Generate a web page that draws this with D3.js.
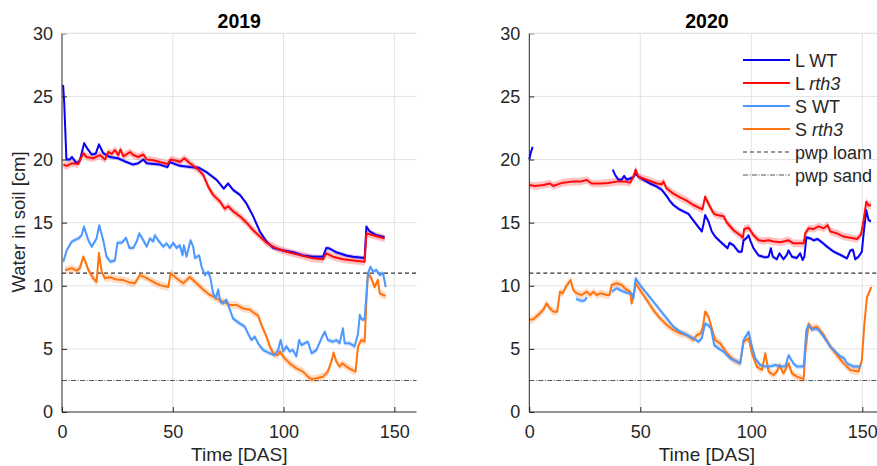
<!DOCTYPE html>
<html>
<head>
<meta charset="utf-8">
<script src="https://cdn.jsdelivr.net/npm/d3@7"></script>
<style>
  html, body { margin: 0; padding: 0; background: #fff; }
  svg { display: block; font-family: "Liberation Sans", Arial, sans-serif; }
</style>
</head>
<body>
<svg id="chart" width="877" height="466"></svg>
<script>
// Soil water content (cm) over time (days after sowing), two seasons.
// Each series is a list of [day, cm]; null marks a gap in the record.

const years = ["2019", "2020"];
const seriesNames = ["L WT", "L rth3", "S WT", "S rth3"];
const seriesColors = ["#0a00f5", "#ff0a0a", "#4d98ff", "#ff7410"];
const bandHalfWidth = [0.15, 0.3, 0.2, 0.3];
const pwpLoam = 11;
const pwpSand = 2.5;
const xTicks = [0, 50, 100, 150];
const yTicks = [0, 5, 10, 15, 20, 25, 30];

const lwt2019 = [[0.5,25.9],[1.0,24.5],[2,20.0],[3.5,20.0],[4.5,20.2],[6.6,19.7],[8,19.9],[10,21.3],[11.3,20.9],[13.4,20.4],[15.2,20.45],[16.7,21.2],[18.6,20.5],[21.6,20.2],[25.3,20.1],[29.1,19.8],[32.1,19.6],[34.4,19.7],[36.7,20.0],[38.2,19.7],[41.1,19.65],[44.1,19.6],[47.6,19.4],[48.7,19.8],[50.2,19.7],[53.2,19.5],[57.7,19.4],[61.8,19.35],[65.2,19.0],[69.7,18.4],[73,17.7],[75,18.1],[77.2,17.6],[80.3,17.2],[83.3,16.5],[86.3,15.5],[89.3,14.3],[92.3,13.5],[95.3,13.0],[99.8,12.8],[104.3,12.65],[108.8,12.4],[113.3,12.3],[117.8,12.3],[119.3,13.0],[120.8,12.95],[123.8,12.65],[128.3,12.4],[131.3,12.3],[136.6,12.2],[137.4,14.7],[138.9,14.3],[141.9,14.0],[145.6,13.85]];

const lrth2019 = [[0.6,19.6],[2.1,19.5],[4.4,19.7],[7.4,19.65],[9.6,20.5],[11.1,20.2],[14.1,20.1],[17.1,20.35],[19.4,20.0],[20.9,20.6],[22.4,20.45],[23.9,20.75],[25.4,20.35],[26.4,20.8],[27.7,20.25],[30.7,20.6],[32.2,20.36],[34.4,20.2],[36.7,20.4],[38.2,20.0],[41.2,19.95],[44.2,19.8],[47.6,19.65],[49,20.0],[51.7,19.9],[53.2,19.8],[55.2,20.1],[57.7,19.7],[61.5,19.2],[63.7,18.8],[66,17.85],[68.2,17.2],[71.2,16.7],[73.5,16.1],[75,16.3],[77.2,15.9],[80.3,15.5],[83.3,15.0],[86.3,14.4],[89.3,13.9],[92.3,13.4],[96.8,12.97],[101.3,12.7],[107.3,12.44],[113.3,12.17],[117.8,12.1],[119.3,12.57],[122.3,12.3],[126.8,12.1],[131.3,12.0],[136.6,11.9],[137.4,14.15],[140.4,14.0],[145.6,13.75]];

const swt2019 = [[0.6,11.9],[2.1,12.8],[4.4,13.5],[7.4,13.75],[8.9,14.0],[9.9,14.7],[11.9,13.6],[13.4,13.1],[15.6,13.75],[16.8,14.8],[18.6,13.6],[20.1,12.3],[21.9,11.9],[23.9,12.0],[25,13.4],[26.9,13.4],[28,13.6],[28.9,13.8],[30.4,13.0],[32.2,13.0],[33.7,13.5],[34.9,14.15],[36.7,13.6],[38.2,13.1],[39.7,13.75],[41.2,13.5],[41.9,14.0],[43.4,13.6],[45.7,13.1],[47.2,13.35],[48.7,13.0],[50.2,13.4],[51.7,13.0],[53.2,13.2],[54.4,12.4],[55,13.2],[56.2,12.3],[58,13.6],[59.2,13.1],[60,12.2],[61.9,12.4],[63,11.5],[64.5,10.85],[66,11.1],[67,10.6],[68.2,9.4],[69.4,9.0],[70.5,9.7],[71.5,8.7],[72.7,8.6],[74.2,8.9],[75.8,8.1],[77.2,7.4],[80.3,7.0],[82.5,6.76],[84,6.2],[85.5,5.7],[87,5.97],[88.5,5.44],[90.8,4.9],[93.8,4.65],[96,4.5],[97.5,4.9],[98.7,5.7],[99.8,4.8],[101.3,5.2],[102.8,4.8],[104.3,4.9],[105.8,4.4],[107,5.7],[108.1,5.3],[109.6,5.45],[111,5.57],[112.6,4.65],[114.8,4.9],[117.1,5.84],[118.6,6.36],[120,5.7],[122.3,5.57],[123.8,5.7],[125.3,5.44],[126.8,6.63],[127.6,5.44],[129.8,5.44],[132.1,5.2],[133.6,6.2],[134.4,7.7],[135.1,7.4],[135.9,7.3],[136.6,7.4],[138.1,11.0],[139.2,11.5],[140.4,11.1],[141.9,11.25],[143.4,10.85],[144.9,11.0],[146.1,9.9]];

const srth2019 = [[1.4,11.25],[2.9,11.3],[4.4,11.4],[6.6,11.2],[8.1,11.4],[9.6,12.3],[10.8,11.8],[11.9,11.25],[14.1,10.6],[15.6,10.3],[16.7,12.6],[17.9,11.1],[19.4,10.6],[21.6,10.67],[24.6,10.5],[27.7,10.45],[30.7,10.25],[32.9,10.2],[35.2,10.85],[38.2,10.6],[41.2,10.3],[44.2,10.05],[48,9.9],[49,11.0],[51.7,10.6],[54.7,10.2],[57.7,10.7],[60.7,10.2],[63.7,9.7],[66.7,9.27],[69.7,9.0],[72.7,8.74],[75.8,8.48],[78.7,8.48],[81.8,8.2],[84.8,8.1],[87,7.8],[88.5,7.65],[90,6.9],[92.3,5.97],[93.8,5.2],[95.3,4.65],[97.5,4.5],[98.3,4.8],[100.5,4.25],[102.8,3.85],[105.8,3.46],[108.8,3.2],[111,2.8],[112.6,2.6],[114.8,2.67],[117.8,2.8],[120,3.2],[121.6,4.0],[122.6,4.7],[123.8,4.0],[125.3,3.6],[126.5,3.85],[128.3,3.6],[131.3,3.3],[132.5,3.2],[133.6,5.2],[135.1,5.7],[136.6,5.57],[137.4,8.87],[138.1,11.0],[139.6,10.6],[141.1,9.9],[142.6,10.45],[143.4,9.4],[144.9,9.27],[146.1,9.2]];

const lwt2020 = [[0,20.0],[0.6,20.5],[1.5,21.0],null,[37.6,19.2],[38.6,18.8],[40.1,18.4],[41.6,18.4],[42.7,18.7],[43.9,18.4],[45.4,18.5],[46.9,18.6],[47.9,18.9],[49.1,18.64],[51.4,18.4],[54.4,18.1],[57.4,17.85],[59.7,17.6],[61.9,17.1],[63.4,16.7],[64.9,16.4],[67.2,16.1],[69.4,15.9],[71.7,15.7],[73.2,15.34],[75.5,14.8],[77.7,14.3],[78.5,14.9],[79.2,15.6],[80.7,15.1],[82.2,14.3],[83.7,13.9],[86,13.5],[88.2,13.15],[89.3,12.97],[90.2,13.4],[92,13.2],[94.2,12.7],[95.7,12.7],[96.5,13.6],[97.7,13.75],[98.8,14.0],[99.5,13.6],[101,12.97],[103.3,12.4],[106.3,12.25],[107.8,12.3],[108.8,12.97],[109.7,12.3],[111.5,12.1],[112.7,12.57],[114.5,12.1],[116,12.45],[116.8,12.8],[118.3,12.3],[120.5,12.2],[122,12.57],[123.1,12.04],[123.9,12.3],[124.8,13.84],[126.6,13.75],[128.1,13.6],[129.9,13.7],[131.8,13.44],[134.1,13.1],[137.1,12.7],[140.1,12.44],[143.1,12.17],[144.6,12.8],[145.8,12.85],[146.8,12.1],[148.3,12.3],[149.8,12.7],[150.6,14.15],[151.8,16.0],[152.8,15.2],[153.9,15.1]];

const lrth2020 = [[0,17.98],[2.6,17.9],[6.3,17.98],[9.3,18.1],[10.8,17.9],[13.1,18.05],[15.3,18.17],[19.1,18.25],[22.8,18.25],[25.9,18.38],[28.1,18.1],[31.9,18.1],[35.6,18.15],[39.4,18.25],[43.1,18.25],[45.4,18.17],[46.9,18.64],[47.9,19.2],[49.1,18.64],[51.4,18.5],[54.4,18.3],[57.4,18.1],[59.7,18.05],[60.4,18.25],[61.9,17.7],[64.9,17.3],[67.9,17.0],[70.9,16.75],[73.9,16.4],[78,16.05],[79.2,17.05],[80.7,16.5],[83,15.74],[84.5,15.6],[87.5,15.5],[89,15.0],[92,14.4],[95,14.0],[96.2,13.8],[96.8,14.5],[98.8,14.6],[101,14.0],[103.3,13.6],[105.5,13.55],[107.8,13.6],[110,13.5],[113,13.45],[116.8,13.6],[119,13.36],[123.6,13.36],[124.3,14.15],[125.8,14.55],[128.1,14.5],[130.3,14.7],[132.6,14.55],[134.4,14.8],[135.6,14.3],[138.6,14.15],[141.6,13.9],[144.6,13.8],[147.6,13.7],[149.4,14.05],[150.6,15.2],[151.8,16.65],[152.8,16.35],[153.9,16.4]];

const swt2020 = [[21,8.96],[23.6,8.8],[25.1,8.85],[25.9,9.1],null,[37.1,9.53],[39.4,9.8],[41.6,9.6],[43.9,9.45],[46.1,9.4],[46.9,9.0],[47.9,10.6],[49.9,10.06],[52.9,9.4],[55.9,8.74],[58.9,8.08],[61.9,7.42],[64.9,6.76],[67.9,6.36],[70.9,6.1],[73.9,5.84],[76.2,5.57],[77.7,5.84],[79.2,7.0],[80.7,6.87],[81.8,6.63],[83.3,5.3],[85.2,5.04],[87.5,4.78],[90.5,4.25],[93.5,4.0],[95,3.85],[96.5,5.7],[98.8,6.36],[100.3,5.18],[101.8,4.25],[104,3.72],[106.3,3.6],[108.5,3.6],[110.8,3.72],[113,3.6],[115.3,3.6],[116.8,4.5],[119,3.85],[120.5,3.6],[123.6,3.6],[124.8,6.5],[125.8,6.9],[127.3,6.5],[128.8,6.63],[130.3,6.5],[132.6,5.97],[135.6,5.18],[138.6,4.65],[140.1,4.4],[141.9,4.25],[143.1,3.85],[146.1,3.6],[149.4,3.6]];

const srth2020 = [[0,7.3],[1.8,7.35],[4.1,7.7],[6.3,8.1],[7.8,8.6],[9.3,8.2],[10.8,7.95],[12.6,7.95],[13.8,9.53],[15,9.4],[16.5,9.93],[17.6,10.2],[18.6,10.45],[19.8,9.67],[21.3,9.4],[23.6,9.27],[25.9,9.53],[27.4,9.27],[28.9,9.53],[30.4,9.27],[31.9,9.4],[34.9,9.27],[36.1,9.27],[37.1,10.06],[39.4,10.2],[41.6,10.06],[43.9,9.67],[45.4,9.53],[46.1,8.6],[47.2,9.4],[47.9,10.2],[49.9,9.67],[52.9,8.87],[55.9,8.08],[58.9,7.42],[61.9,6.9],[64.9,6.5],[67.9,6.23],[70.9,6.1],[73.9,5.7],[75.5,6.1],[77.3,6.23],[78.2,6.76],[79.2,7.95],[80.7,7.55],[82.2,6.63],[83.7,5.7],[86,5.44],[89,4.65],[92,4.12],[95,3.85],[96.5,5.57],[98.8,5.84],[100.3,4.65],[102.5,3.6],[104.8,3.33],[106.3,4.65],[107.8,3.2],[110,2.93],[111.5,3.2],[112.7,3.72],[114.5,3.06],[116.8,3.85],[118.3,3.06],[120.5,2.8],[123.6,2.6],[124.3,4.65],[125.8,7.0],[127.3,6.63],[129.6,6.76],[132.6,6.1],[135.6,5.18],[138.6,4.5],[141.6,3.85],[144.6,3.33],[148.3,3.2],[149.8,4.1],[150.9,6.9],[152.1,9.1],[153.6,9.67],[154,9.9]];

const panelSeries = [
  [lwt2019, lrth2019, swt2019, srth2019],
  [lwt2020, lrth2020, swt2020, srth2020]
];

const svg = d3.select("#chart");
const axisColor = "#262626";
const gridColor = "#e3e3e3";

const panels = [
  { left: 62, right: 416.5 },
  { left: 529.3, right: 884.5 }
];
const plotTop = 33.3, plotBottom = 412;

const y = d3.scaleLinear().domain([0, 30]).range([plotBottom, plotTop]);

panels.forEach((p, i) => {
  const x = d3.scaleLinear().domain([0, 160]).range([p.left, p.right]);
  const g = svg.append("g");

  // grid
  g.append("g").selectAll("line").data(yTicks.filter(t => t > 0)).join("line")
    .attr("x1", p.left).attr("x2", p.right)
    .attr("y1", d => y(d)).attr("y2", d => y(d))
    .attr("stroke", gridColor).attr("stroke-width", 1);
  g.append("g").selectAll("line").data(xTicks.filter(t => t > 0)).join("line")
    .attr("x1", d => x(d)).attr("x2", d => x(d))
    .attr("y1", plotTop).attr("y2", plotBottom)
    .attr("stroke", gridColor).attr("stroke-width", 1);

  // permanent wilting point reference lines
  g.append("line")
    .attr("x1", p.left).attr("x2", p.right)
    .attr("y1", y(pwpLoam)).attr("y2", y(pwpLoam))
    .attr("stroke", "#333").attr("stroke-width", 1.1)
    .attr("stroke-dasharray", "4,3");
  g.append("line")
    .attr("x1", p.left).attr("x2", p.right)
    .attr("y1", y(pwpSand)).attr("y2", y(pwpSand))
    .attr("stroke", "#555").attr("stroke-width", 1.1)
    .attr("stroke-dasharray", "5,1.5,1,1.5");

  const line = d3.line()
    .defined(d => d !== null)
    .x(d => x(d[0])).y(d => y(d[1]));

  // uncertainty bands, then the mean lines on top
  panelSeries[i].forEach((s, k) => {
    const hw = bandHalfWidth[k];
    const area = d3.area()
      .defined(d => d !== null)
      .x(d => x(d[0]))
      .y0(d => y(d[1] - hw)).y1(d => y(d[1] + hw));
    g.append("path").datum(s)
      .attr("d", area)
      .attr("fill", seriesColors[k]).attr("fill-opacity", 0.25);
  });
  const order = [3, 2, 0, 1];
  order.forEach(k => {
    g.append("path").datum(panelSeries[i][k])
      .attr("d", line)
      .attr("fill", "none")
      .attr("stroke", seriesColors[k])
      .attr("stroke-width", 2)
      .attr("stroke-linejoin", "round");
  });

  // axes (ticks point inward)
  const ax = g.append("g").attr("transform", `translate(0,${plotBottom})`)
    .call(d3.axisBottom(x).tickValues(xTicks).tickSize(-5).tickPadding(10).tickFormat(d3.format("d")));
  const ay = g.append("g").attr("transform", `translate(${p.left},0)`)
    .call(d3.axisLeft(y).tickValues(yTicks).tickSize(-5).tickPadding(9).tickFormat(d3.format("d")));
  [ax, ay].forEach(a => {
    a.select(".domain").attr("stroke", axisColor).attr("stroke-width", 1);
    a.selectAll(".tick line").attr("stroke", axisColor);
    a.selectAll(".tick text").attr("fill", axisColor)
      .style("font-size", "18px").style("font-family", "Liberation Sans, Arial, sans-serif");
  });
  ax.selectAll(".tick text").attr("dy", "0.71em").attr("y", 13);
  ay.select(".domain").attr("d", `M0,${plotBottom}V${plotTop}`);
  ax.select(".domain").attr("d", `M${p.left},0H${p.right}`);

  // top frame edge
  g.append("line")
    .attr("x1", p.left).attr("x2", p.right).attr("y1", plotTop).attr("y2", plotTop)
    .attr("stroke", gridColor).attr("stroke-width", 1);

  // title
  svg.append("text")
    .attr("x", (p.left + p.right) / 2).attr("y", 28)
    .attr("text-anchor", "middle")
    .style("font-size", "19.5px").style("font-weight", "bold")
    .attr("fill", "#000")
    .text(years[i]);

  // x label
  svg.append("text")
    .attr("x", (p.left + p.right) / 2).attr("y", 461)
    .attr("text-anchor", "middle")
    .style("font-size", "19px")
    .attr("fill", axisColor)
    .text("Time [DAS]");

  if (i === 1) {
    // legend
    const lg = svg.append("g");
    const rows = [
      { name: "L WT", color: seriesColors[0], dash: null },
      { name: "L rth3", color: seriesColors[1], dash: null },
      { name: "S WT", color: seriesColors[2], dash: null },
      { name: "S rth3", color: seriesColors[3], dash: null },
      { name: "pwp loam", color: "#333", dash: "4,3" },
      { name: "pwp sand", color: "#555", dash: "5,1.5,1,1.5" }
    ];
    rows.forEach((r, j) => {
      const yy = 60 + j * 23;
      lg.append("line")
        .attr("x1", 743).attr("x2", 790).attr("y1", yy).attr("y2", yy)
        .attr("stroke", r.color)
        .attr("stroke-width", r.dash ? 1.1 : 2.2)
        .attr("stroke-dasharray", r.dash);
      const t = lg.append("text")
        .attr("x", 795).attr("y", yy + 6.5)
        .style("font-size", "18px").attr("fill", axisColor);
      const parts = r.name.split(" ");
      t.append("tspan").text(parts[0] + " ");
      const sp = t.append("tspan").text(parts.slice(1).join(" "));
      if (parts[1] === "rth3") sp.style("font-style", "italic");
    });
  }
});

// y axis label
svg.append("text")
  .attr("transform", "translate(25,222) rotate(-90)")
  .attr("text-anchor", "middle")
  .style("font-size", "18.5px")
  .attr("fill", axisColor)
  .text("Water in soil [cm]");
</script>
</body>
</html>
